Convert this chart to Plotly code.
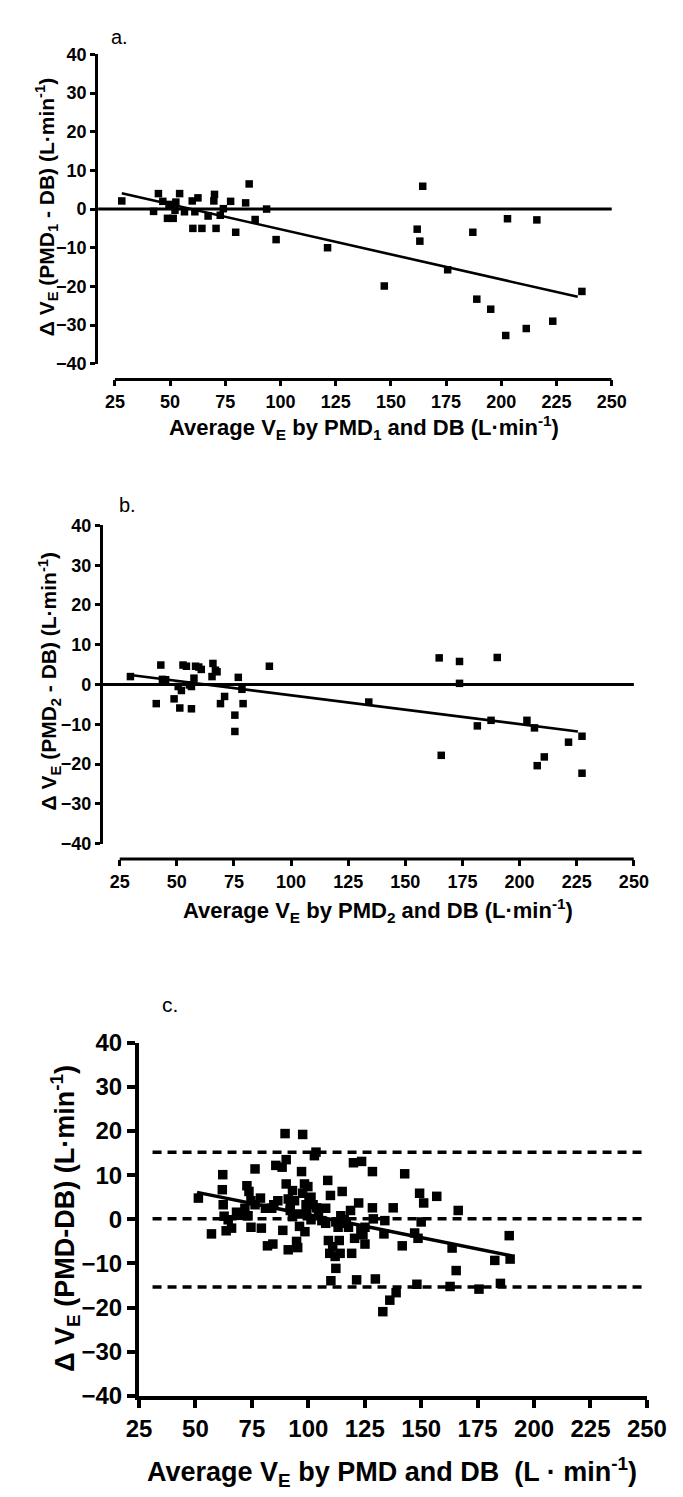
import plotly.graph_objects as go

W, H = 683, 1497

# ---------------- data ----------------
# Panel a: PMD1 vs DB
a_avg = [28.1, 42.5, 44.7, 46.7, 48.8, 51.4, 50.7, 52.6, 54.3, 52.2, 56.5, 60.0, 60.3, 61.2, 62.6,
         64.4, 67.2, 70.1, 69.8, 70.8, 72.7, 74.1, 77.4, 79.7, 84.2, 85.8, 88.5, 93.7, 98.0, 121.3,
         147.0, 154.9, 161.9, 163.1, 164.4, 175.7, 187.1, 188.9, 195.2, 202.0, 202.8, 211.3, 216.1,
         223.3, 236.5, 49.5]
a_diff = [2.1, -0.6, 4.0, 2.0, -2.4, -2.4, 1.1, 1.8, 4.0, -0.3, -0.7, 2.1, -5.0, -0.7, 2.9,
          -5.0, -1.8, 3.8, 2.1, -5.0, -1.6, 0.1, 2.0, -6.0, 1.6, 6.5, -2.7, 0.0, -7.9, -10.0,
          -19.9, -40.1, -5.2, -8.3, 5.9, -15.7, -6.0, -23.3, -25.9, -32.7, -2.5, -30.9, -2.8,
          -29.0, -21.3, 1.2]
a_fit_x = [28.1, 234.6]
a_fit_y = [4.1, -22.7]

# Panel b: PMD2 vs DB
b_avg = [29.7, 41.0, 43.0, 43.7, 45.1, 48.8, 50.6, 51.3, 52.0, 52.7, 54.2, 55.5, 56.4, 56.4, 57.5,
         58.2, 59.6, 60.7, 65.4, 65.8, 66.9, 67.6, 69.1, 70.9, 75.4, 75.4, 76.9, 78.5, 79.0, 90.5,
         134.0, 164.8, 165.7, 173.7, 173.7, 181.5, 187.5, 190.2, 203.2, 206.5, 207.7, 210.8, 221.4,
         227.3, 227.3]
b_diff = [2.0, -4.8, 4.9, 1.3, 1.2, -3.6, -0.5, -5.9, -1.5, 4.9, 4.6, -0.1, -6.1, -0.5, 1.6,
          4.6, 4.4, 3.8, 2.0, 5.3, 3.6, 3.2, -4.8, -3.0, -7.7, -11.8, 1.8, -1.2, -4.8, 4.6,
          -4.4, 6.7, -17.8, 5.8, 0.3, -10.4, -9.0, 6.8, -9.0, -10.9, -20.4, -18.2, -14.5,
          -13.0, -22.3]
b_fit_x = [29.7, 225.5]
b_fit_y = [2.4, -11.8]

# Panel c: pooled PMD vs DB
c_avg = [51.3, 57.1, 62.1, 61.9, 62.3, 62.7, 63.6, 64.5, 66.0, 68.2, 69.6, 72.8, 73.7, 73.3, 74.6,
         76.4, 76.4, 78.8, 79.2, 81.0, 81.9, 84.3, 83.8, 85.6, 86.5, 88.4, 88.7, 89.7, 90.2, 90.2,
         91.1, 91.1, 92.0, 93.0, 93.9, 94.8, 95.3, 96.1, 95.7, 97.0, 97.5, 97.5, 98.3, 99.0, 98.5,
         99.8, 100.3, 102.1, 103.4, 102.7, 104.5, 106.0, 107.7, 108.6, 108.9, 109.5, 109.8, 110.0,
         110.8, 111.9, 112.2, 113.2, 113.7, 114.1, 114.4, 115.0, 115.0, 115.9, 117.8, 118.7, 119.2,
         120.0, 120.5, 121.4, 122.3, 123.6, 124.2, 125.1, 125.1, 128.4, 128.4, 128.8, 129.7, 133.5,
         133.9, 133.0, 136.1, 137.6, 138.9, 141.6, 142.7, 147.1, 148.1, 148.6, 149.3, 150.0, 151.1,
         156.9, 162.8, 163.7, 165.5, 166.4, 175.6, 182.6, 185.1, 189.0, 189.4,
         93.0, 99.3, 101.2, 101.2, 103.6, 92.0, 107.7, 116.8, 84.7, 71.9, 74.6, 123.3, 112.2]
c_diff = [4.8, -3.3, 10.1, 6.7, 3.3, 0.7, -2.6, -0.1, -2.0, 1.6, 0.9, 7.6, 6.3, 0.8, -1.8,
          11.4, 3.3, 4.8, -2.0, 2.5, -6.0, -5.6, 2.5, 12.2, 4.2, 11.8, -2.5, 19.4, 13.5, 8.0,
          4.6, -6.9, 3.3, 6.5, 4.2, -5.0, -6.4, -1.6, 1.2, 10.8, 5.9, 19.2, 8.0, 3.3, -2.8,
          7.4, 4.2, 3.3, 15.2, 14.4, 0.8, -0.3, 2.5, 8.8, -4.8, -7.7, 5.4, -13.9,
          -6.2, -8.4, -11.1, -1.8, -4.8, -7.7, 0.8, 6.3, -0.9, -0.1, -1.8, 2.0, -7.7,
          12.8, -4.3, -13.7, 3.7, 13.1, -3.5, -5.6, -1.8, 10.8, 2.6, 0.1, -13.5, -3.3,
          -0.3, -20.9, -18.3, 2.6, -16.6, -6.0, 10.3, -3.1, -14.7, -4.3, 5.9, -0.6, 3.7,
          5.2, -15.2, -6.5, -11.6, 2.0, -15.8, -9.3, -14.5, -3.7, -9.0,
          0.6, 1.6, -0.1, 5.0, 2.6, 2.0, -0.9, -0.9, 3.3, 2.5, 4.2, -2.6, -0.6]
c_fit_x = [50.7, 190.3]
c_fit_y = [6.1, -8.3]
c_bias = 0.1
c_loa_upper = 15.2
c_loa_lower = -15.3
c_limit_x = [31, 250]

x_ticks = [25, 50, 75, 100, 125, 150, 175, 200, 225, 250]
y_ticks = [-40, -30, -20, -10, 0, 10, 20, 30, 40]

# ---------------- helpers ----------------
def px_x(p):
    return p / W

def px_y(p):
    return 1 - p / H

FONT = "Arial"

fig = go.Figure()

def add_panel(xa, ya, xs, ys, fx, fy, msize, lw):
    fig.add_trace(go.Scatter(x=xs, y=ys, mode="markers", xaxis=xa, yaxis=ya,
                             marker=dict(symbol="square", size=msize, color="black"),
                             cliponaxis=False, showlegend=False))
    fig.add_trace(go.Scatter(x=fx, y=fy, mode="lines", xaxis=xa, yaxis=ya,
                             line=dict(color="black", width=lw), showlegend=False))

add_panel("x", "y", a_avg, a_diff, a_fit_x, a_fit_y, 7.5, 2.6)
add_panel("x2", "y2", b_avg, b_diff, b_fit_x, b_fit_y, 7.5, 2.6)

# panel c limit lines
for val in (c_loa_upper, c_bias, c_loa_lower):
    fig.add_trace(go.Scatter(x=c_limit_x, y=[val, val], mode="lines", xaxis="x3", yaxis="y3",
                             line=dict(color="black", width=3.5, dash="9px,6px"),
                             showlegend=False))
add_panel("x3", "y3", c_avg, c_diff, c_fit_x, c_fit_y, 9.5, 3.5)

def axis_common(size, lw, tlen):
    return dict(showgrid=False, zeroline=False, ticks="outside", ticklen=tlen,
                tickwidth=lw, tickcolor="black", linecolor="black", linewidth=lw,
                tickfont=dict(family=FONT, size=size, color="black", weight="bold"))

# panel geometry (pixels)
panels = {
    "a": dict(yaxis_x=81, x25=98.7, x250=620.7, ytop=33, ybot=348, xaxis_y=364),
    "b": dict(yaxis_x=86, x25=103.7, x250=644, ytop=512.7, ybot=836.7, xaxis_y=852.3),
}

layout = dict(width=W, height=H, margin=dict(l=0, r=0, t=0, b=0),
              paper_bgcolor="white", plot_bgcolor="white")
shapes = []
for key, xa, ya in (("a", "xaxis", "yaxis"), ("b", "xaxis2", "yaxis2")):
    g = panels[key]
    ppu = (g["x250"] - g["x25"]) / 225.0
    r0 = 25 - (g["x25"] - g["yaxis_x"]) / ppu
    xid = "x" if key == "a" else "x2"
    yid = "y" if key == "a" else "y2"
    layout[xa] = dict(domain=[px_x(g["yaxis_x"]), px_x(g["x250"])], range=[r0, 250],
                      anchor="free", position=px_y(g["xaxis_y"]), showline=False,
                      tickvals=x_ticks, **axis_common(18, 3, 6))
    layout[ya] = dict(domain=[px_y(g["ybot"]), px_y(g["ytop"])], range=[-40, 40],
                      anchor=xid, showline=True, tickvals=y_ticks, **axis_common(18, 3, 5))
    # offset x axis line from 25 to 250
    shapes.append(dict(type="line", xref=xid, yref="paper", x0=25, x1=250,
                       y0=px_y(g["xaxis_y"]), y1=px_y(g["xaxis_y"]),
                       line=dict(color="black", width=3)))
    # zero reference line
    shapes.append(dict(type="line", xref=xid + " domain", yref=yid, x0=0, x1=1, y0=0, y1=0,
                       line=dict(color="black", width=3)))

layout["xaxis3"] = dict(domain=[px_x(124), px_x(657.7)], range=[25, 250], anchor="y3",
                        showline=True, tickvals=x_ticks, **axis_common(24, 4, 8))
layout["yaxis3"] = dict(domain=[px_y(1399.3), px_y(1039.3)], range=[-40, 40], anchor="x3",
                        showline=True, tickvals=y_ticks, **axis_common(24, 4, 8))
layout["shapes"] = shapes

def ann(text, x, y, size, angle=0, bold=True):
    return dict(text=text, x=px_x(x), y=px_y(y), xref="paper", yref="paper",
                showarrow=False, textangle=angle, xanchor="center", yanchor="middle",
                font=dict(family=FONT, size=size, color="black",
                          weight="bold" if bold else "normal"))

layout["annotations"] = [
    ann("a.", 103, 15, 20, bold=False),
    ann("b.", 112, 492, 20, bold=False),
    ann("c.", 157, 1001, 21, bold=False),
    ann("Δ V<sub>E</sub> (PMD<sub>1</sub> - DB) (L·min<sup>-1</sup>)", 27, 189, 21, -90),
    ann("Δ V<sub>E</sub> (PMD<sub>2</sub> - DB) (L·min<sup>-1</sup>)", 30, 672, 21, -90),
    ann("Δ V<sub>E</sub> (PMD-DB) (L·min<sup>-1</sup>)", 46, 1218, 27, -90),
    ann("Average V<sub>E</sub> by PMD<sub>1</sub> and DB (L·min<sup>-1</sup>)", 360, 413, 22),
    ann("Average V<sub>E</sub> by PMD<sub>2</sub> and DB (L·min<sup>-1</sup>)", 375, 905, 22),
    ann("Average V<sub>E</sub> by PMD and DB  (L · min<sup>-1</sup>)", 390, 1477, 27),
]

fig.update_layout(**layout)
fig.write_html("out.html")
